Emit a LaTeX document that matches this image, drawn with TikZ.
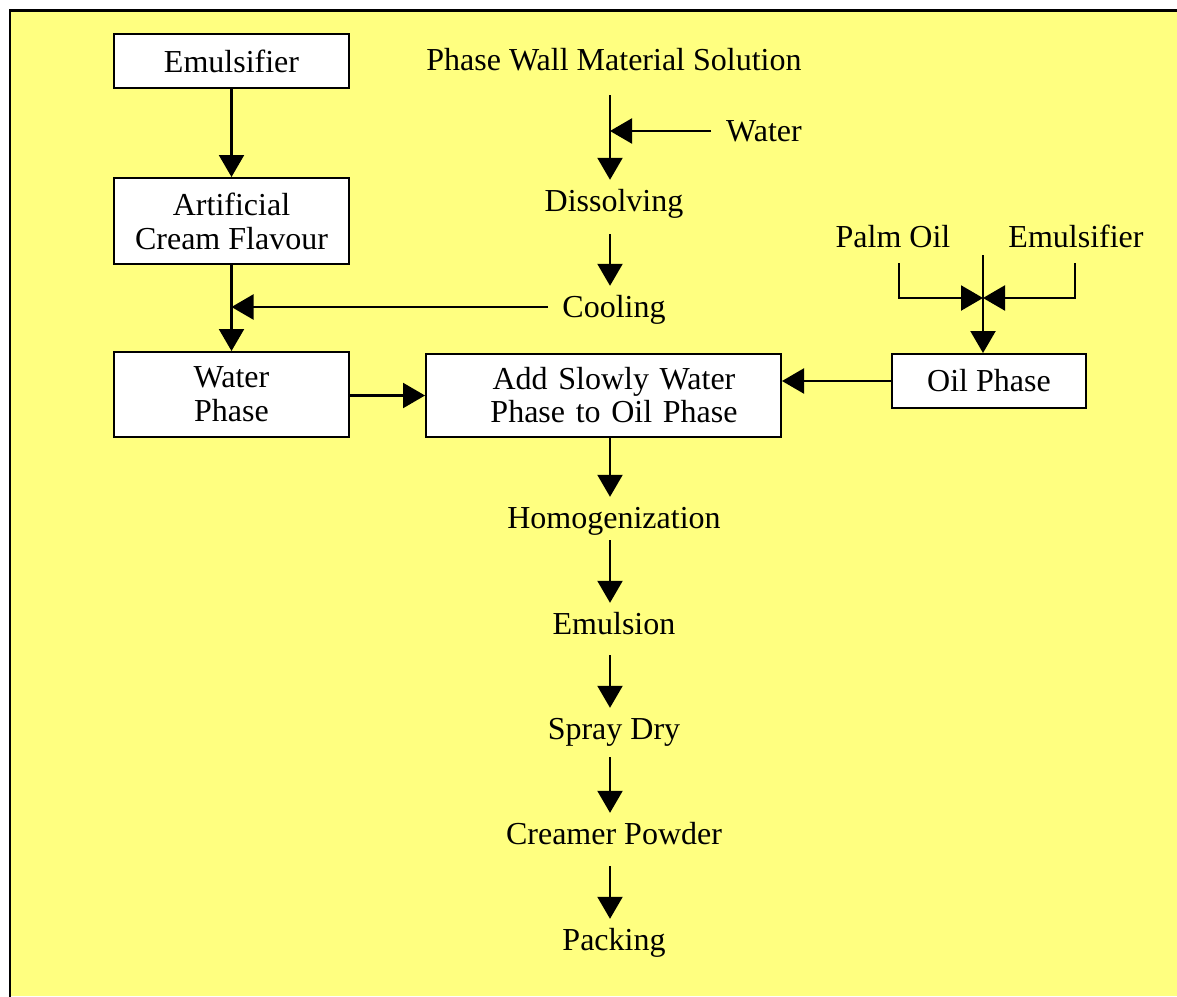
\documentclass[tikz,border=0pt]{standalone}
\usepackage{fontspec}
\setmainfont{Liberation Serif}
\usetikzlibrary{arrows.meta}
\definecolor{bgyellow}{RGB}{255,255,128}
\tikzset{
  lbl/.style={inner sep=0pt, text height=22pt, text depth=1pt, minimum height=42pt, font=\fontsize{32}{37}\selectfont},
  box/.style={draw=black, line width=2pt, fill=white, align=center, inner sep=0pt, font=\fontsize{32}{37}\selectfont},
  arr/.style={line width=2.2pt, -{Triangle[length=22pt,width=25pt]}},
}
\begin{document}
\begin{tikzpicture}[x=1pt,y=-1pt]
\useasboundingbox (0,0) rectangle (1177,996);
\fill[white] (0,0) rectangle (1177,996);
\fill[bgyellow] (10,10.5) rectangle (1177,996);
\draw[line width=2.6pt, line cap=rect] (10,996) -- (10,10.5) -- (1177,10.5);
% spine coordinate
\coordinate (spine) at (610,0);
% left column boxes
\node[box, minimum width=235pt, minimum height=54pt] (emu) at (231.5,61) {Emulsifier};
\node[box, minimum width=235pt, minimum height=86pt] (acf) at (231.5,221) {Artificial\\[-3pt]Cream Flavour};
\node[box, minimum width=235pt, minimum height=85pt] (wp) at (231.5,394.5) {Water\\[-3pt]Phase};
% central column
\node[lbl] (pwms) at (614,60) {Phase Wall Material Solution};
\node[lbl] (water) at (764,131) {Water};
\node[lbl] (diss) at (614,201) {Dissolving};
\node[lbl] (cool) at (614,307) {Cooling};
\node[box, minimum width=355pt, minimum height=83pt, text width=355pt] (add) at (603.5,395.5) {\hspace*{21pt}Add Slowly Water\\[-4pt]\hspace*{21pt}Phase to Oil Phase};
\node[lbl] (homog) at (614,518) {Homogenization};
\node[lbl] (emul) at (614,624) {Emulsion};
\node[lbl] (spray) at (614,729) {Spray Dry};
\node[lbl] (cream) at (614,834) {Creamer Powder};
\node[lbl] (pack) at (614,940) {Packing};
% right column
\node[lbl] (palm) at (893,237) {Palm Oil};
\node[lbl] (emu2) at (1076,237) {Emulsifier};
\node[box, minimum width=194pt, minimum height=54pt] (oil) at (989,381) {Oil Phase};
\coordinate (mix) at (983,298);
\coordinate (mixtop) at (983,255);
% connectors left
\draw[arr] (emu.south) -- (acf.north);
\draw[arr] (acf.south) -- (wp.north);
\draw[arr] ([xshift=-14pt]cool.west) -- (cool.west -| acf.south);
\draw[arr] (wp.east |- add.west) -- (add.west);
% center
\draw[arr] ([yshift=-14pt]pwms.south -| spine) -- (diss.north -| spine);
\draw[arr] ([xshift=-15pt]water.west) -- (water.west -| spine);
\draw[arr, shorten <=12pt] (diss.south -| spine) -- (cool.north -| spine);
\draw[arr] (add.south -| spine) -- (homog.north -| spine);
\draw[arr] ([yshift=-1pt]homog.south -| spine) -- (emul.north -| spine);
\draw[arr] ([yshift=-10pt]emul.south -| spine) -- (spray.north -| spine);
\draw[arr] ([yshift=-7pt]spray.south -| spine) -- (cream.north -| spine);
\draw[arr] ([yshift=-11pt]cream.south -| spine) -- (pack.north -| spine);
% right
\draw[arr] ([xshift=6pt,yshift=-5pt]palm.south) |- (mix);
\draw[arr] ([xshift=-1pt,yshift=-5pt]emu2.south) |- (mix);
\draw[arr] (mixtop) -- (oil.north -| mix);
\draw[arr] (oil.west) -- (oil.west -| add.east);
\end{tikzpicture}
\end{document}
